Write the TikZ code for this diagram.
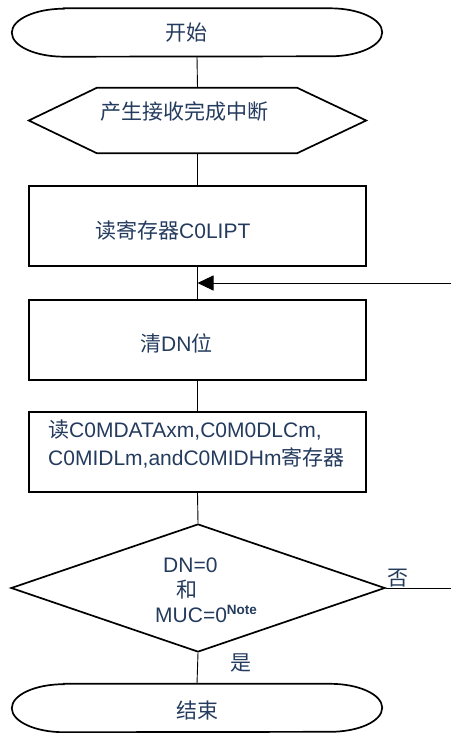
\documentclass[tikz,border=0pt]{standalone}
\usepackage{fontspec}
\setmainfont{Liberation Sans}
\newfontfamily\cjk{Noto Sans CJK SC}
\usetikzlibrary{shapes.geometric,arrows.meta}
\definecolor{textnavy}{HTML}{243B5E}
\newcommand{\zh}[1]{{\cjk #1}}
% flattened stadium outline round a named node
\newcommand{\stadium}[1]{%
  \draw[line width=1.7pt] ([xshift=52pt]#1.north west) -- ([xshift=-52pt]#1.north east)
    arc[start angle=90, end angle=-90, x radius=52pt, y radius=24pt]
    -- ([xshift=52pt]#1.south west)
    arc[start angle=270, end angle=90, x radius=52pt, y radius=24pt] -- cycle;}
\tikzset{
  flowline/.style={line width=0.9pt},
  shapeline/.style={draw, line width=1.7pt},
  terminal/.style={rectangle, minimum width=370pt, minimum height=48pt, inner sep=0pt},
  procbox/.style={shapeline, rectangle, minimum width=337pt, minimum height=80pt, inner sep=0pt},
  decision/.style={shapeline, diamond, minimum width=374pt, minimum height=128pt, inner sep=0pt},
  txt/.style={text=textnavy, font=\fontsize{21}{25}\selectfont, inner sep=0pt},
}
\begin{document}
\begin{tikzpicture}[x=1pt, y=-1pt, >=stealth]
    \useasboundingbox (0,0) rectangle (451,733);

    % shapes
    \node[terminal] (start) at (197,32.5) {};
    \stadium{start}
    \node[minimum width=337pt, minimum height=65pt, inner sep=0pt] (irq) at (197.5,120.5) {};
    \draw[line width=1.7pt] (irq.west) -- ([xshift=68pt]irq.north west) -- ([xshift=-69pt]irq.north east)
        -- (irq.east) -- ([xshift=-69pt]irq.south east) -- ([xshift=68pt]irq.south west) -- cycle;
    \node[procbox] (readlipt) at (197.5,226) {};
    \node[procbox] (cleardn) at (197.5,340) {};
    \node[procbox] (readdata) at (197.5,452) {};
    \node[decision] (check) at (198,588) {};
    \node[terminal] (stop) at (197,708) {};
    \stadium{stop}

    % texts
    \node[txt, anchor=base west] (t-start) at (165,41) {\zh{开始}};
    \node[txt, anchor=base west] (t-irq) at (100,120) {\zh{产生接收完成中断}};
    \node[txt, anchor=base west] (t-readlipt) at (95,238) {\zh{读寄存器}C0LIPT};
    \node[txt, anchor=base west] (t-cleardn) at (140,351) {\zh{清}DN\zh{位}};
    \node[txt, anchor=north west, align=left, font=\fontsize{21}{27.5}\selectfont] (t-readdata) at (48,420)
        {\zh{读}C0MDATAxm,C0M0DLCm,\\C0MIDLm,andC0MIDHm\zh{寄存器}};
    \node[txt, anchor=north west, align=left] (t-check) at (155,558)
        {\hspace*{8pt}DN=0\\\hspace*{21pt}\zh{和}\\MUC=0\raisebox{8pt}{\fontsize{13.5}{13.5}\selectfont\bfseries Note}};
    \node[txt, anchor=base west] (t-no) at (387,585) {\zh{否}};
    \node[txt, anchor=base west] (t-yes) at (230,670) {\zh{是}};
    \node[txt, anchor=base west] (t-stop) at (176,718) {\zh{结束}};

    % connectors
    \coordinate (loopin) at (451,283);
    \coordinate (noout) at (451,588);
    \draw[flowline] (start.south) -- (irq.north);
    \draw[flowline] (irq.south) -- (readlipt.north);
    \draw[flowline] (readlipt.south) -- (cleardn.north);
    \draw[flowline] (cleardn.south) -- (readdata.north);
    \draw[flowline] (readdata.south) -- (check.north);
    \draw[flowline] (check.south) -- (stop.north);
    \draw[flowline] (check.east) -- (noout);
    \draw[flowline, -{Triangle[length=16pt, width=15pt]}] (loopin) -- (readlipt.south |- loopin);
\end{tikzpicture}
\end{document}
